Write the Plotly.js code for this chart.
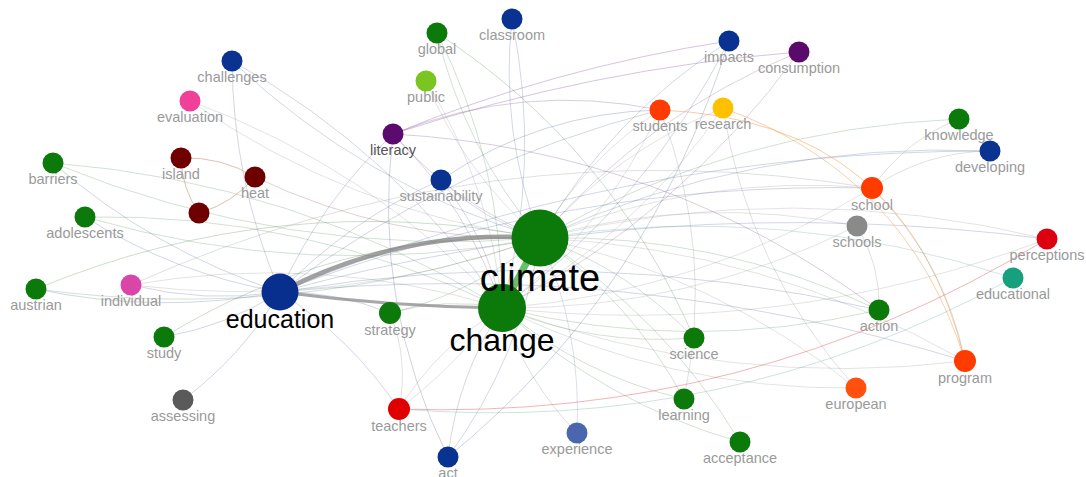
<!DOCTYPE html>
<html>
<head>
<meta charset="utf-8">
<script src="https://cdn.plot.ly/plotly-3.0.1.min.js"></script>
<style>
html,body{margin:0;padding:0;background:#fff;}
#chart{width:1086px;height:477px;}
</style>
</head>
<body>
<div id="chart"></div>
<script>
const nodeLabels = ["challenges","evaluation","barriers","island","heat","","adolescents","austrian","individual","education","study","assessing",
  "global","classroom","public","literacy","sustainability","climate","change","strategy","teachers","act","experience","science","learning","acceptance",
  "impacts","consumption","students","research","knowledge","developing","school","schools","perceptions","educational","action","program","european"];
const nodeX = [232,190,53,181,255,199,85,36,131,280,164,183,
  437,512,426,393,441,540,502,390,399,448,577,694,684,740,
  729,799,660,723,959,990,872,857,1047,1013,879,965,856];
const nodeY = [61,101,163,158,177,213,217,289,285,292,337,400,
  33,19,81,134,180,238,308,313,409,457,433,338,399,442,
  41,52,110,108,119,151,188,226,239,278,310,361,388];
const nodeSize = [21,21,21,21,21,21,21,21,21,37,21,21,
  21,21,21,21,21,57,48,22,22,21,21,21,21,21,
  21,21,21,21,21,21,22,21,21,21,21,22,21];
const nodeColor = ["#0a3291","#f0409a","#0b7a0b","#6e0000","#6e0000","#6e0000","#0b7a0b","#0b7a0b","#d946a8","#082f8e","#0b7a0b","#5a5a5a",
  "#0b7a0b","#0a3291","#7ac520","#5b0a6e","#0a3291","#0b7a0b","#0b7a0b","#0b7a0b","#e00000","#0a3291","#4a67ad","#0b7a0b","#0b7a0b","#0b7a0b",
  "#0a3291","#5a0a6a","#ff3b00","#ffc000","#0b7a0b","#0a3291","#ff3b00","#8a8a8a","#dd0010","#17a07e","#0b7a0b","#ff3b00","#ff5010"];
const labelFontSize = [14.5,14.5,14.5,14.5,14.5,14.5,14.5,14.5,14.5,25,14.5,14.5,
  14.5,14.5,14.5,14.5,14.5,38,32,14.5,14.5,14.5,14.5,14.5,14.5,14.5,
  14.5,14.5,14.5,14.5,14.5,14.5,14.5,14.5,14.5,14.5,14.5,14.5,14.5];
const labelColor = nodeLabels.map(l => (l==="climate"||l==="change"||l==="education") ? "#000000" : (l==="literacy" ? "#555555" : "#9a9a9a"));

// ---- Links ----
const heavyLinks = [["education","climate",4.5,"rgba(130,130,130,0.75)"],["change","education",3,"rgba(130,130,130,0.7)"],["climate","change",7,"rgba(80,180,80,0.85)"]];
const climateLinks = ["strategy","literacy","sustainability","global","classroom","students","research","impacts","school","schools","perceptions","educational",
  "action","program","science","learning","acceptance","teachers","act","experience","knowledge","developing","barriers","adolescents","austrian","individual",
  "evaluation","challenges","consumption","european","public","heat"];
const changeLinks = ["strategy","global","public","sustainability","students","impacts","school","schools","perceptions","action","program","science","learning",
  "acceptance","teachers","act","experience","barriers","adolescents","individual","evaluation","challenges","literacy","european","consumption","research","classroom"];
const educationLinks = ["study","assessing","individual","austrian","barriers","adolescents","school","challenges","literacy","sustainability","perceptions",
  "developing","action","program","teachers","students","strategy"];
const otherLinks = [["island","heat"],["","island"],["heat",""],["students","program"],["research","program"],["perceptions","teachers"],
  ["literacy","consumption"],["literacy","impacts"],["literacy","students"],["school","developing"],["school","knowledge"],["study","climate"],
  ["austrian","climate"],["individual","school"],["sustainability","students"],["literacy","action"],["strategy","teachers"],["act","literacy"],
  ["school","program"],["schools","action"],["european","research"],["educational","teachers"],["global","science"],["students","learning"],["impacts","act"]];

const idx = name => nodeLabels.indexOf(name);
function mixGray(hex, a, k){
  const r=parseInt(hex.substr(1,2),16), g=parseInt(hex.substr(3,2),16), b=parseInt(hex.substr(5,2),16);
  const m = v => Math.round(v*(1-k) + 140*k);
  return `rgba(${m(r)},${m(g)},${m(b)},${a})`;
}
function curve(a, b, width, color, bend){
  const i=idx(a), j=idx(b);
  const x0=nodeX[i], y0=nodeY[i], x1=nodeX[j], y1=nodeY[j];
  const dx=x1-x0, dy=y1-y0;
  const cx=(x0+x1)/2 + dy*bend, cy=(y0+y1)/2 - dx*bend;
  return {type:"path", xref:"x", yref:"y", layer:"below",
    path:`M ${x0},${y0} Q ${cx},${cy} ${x1},${y1}`,
    line:{color:color, width:width}};
}
const shapes = [];
function thinColor(a,b){
  const i=idx(a), j=idx(b);
  let c = nodeColor[i];
  if (nodeColor[i]==="#0b7a0b" && nodeColor[j]!=="#0b7a0b") c = nodeColor[j];
  if (["#ff3b00","#ff5010","#e00000","#dd0010","#f0409a","#d946a8","#ffc000","#7ac520"].includes(c)) c = "#8a8a8a";
  return mixGray(c, 0.3, 0.45);
}
climateLinks.forEach(n => shapes.push(curve("climate", n, 0.8, thinColor("climate",n), 0.12)));
changeLinks.forEach(n => shapes.push(curve(n, "change", 0.8, thinColor("change",n), 0.12)));
educationLinks.forEach(n => shapes.push(curve("education", n, 0.8, thinColor("education",n), 0.1)));
otherLinks.forEach(p => {
  const i=idx(p[0]);
  let col, bend = 0.15;
  if (p[0]==="students" && p[1]==="program") { col = "rgba(245,150,70,0.55)"; bend = 0.38; }
  else if (p[0]==="research" && p[1]==="program") { col = "rgba(245,150,70,0.5)"; bend = 0.25; }
  else if (p[0]==="perceptions") col = "rgba(225,70,70,0.45)";
  else if (p[0]==="literacy" && (p[1]==="consumption"||p[1]==="impacts")) { col = "rgba(140,90,165,0.4)"; bend = 0.06; }
  else if (nodeColor[i]==="#6e0000" || p[0]==="") col = "rgba(190,140,110,0.6)";
  else col = thinColor(p[0],p[1]);
  shapes.push(curve(p[0], p[1], 0.9, col, bend));
});
heavyLinks.forEach(h => shapes.push(curve(h[0], h[1], h[2], h[3], h[0]==="climate" ? 0.0 : (h[0]==="change" ? 0.03 : 0.14))));

const nodeTrace = {
  type:"scatter", mode:"markers", x:nodeX, y:nodeY, hoverinfo:"skip",
  marker:{size:nodeSize, color:nodeColor, line:{width:0}, opacity:1}
};
const labelTrace = {
  type:"scatter", mode:"text", hoverinfo:"skip",
  x:nodeX,
  y:nodeY.map((y,i)=> y + nodeSize[i]/2 + labelFontSize[i]*0.35 + (nodeLabels[i]==="change" ? 0 : 2)),
  text:nodeLabels,
  textposition:"middle center",
  textfont:{family:"Liberation Sans, Arial, sans-serif", size:labelFontSize, color:labelColor}
};

const layout = {
  width:1086, height:477,
  margin:{l:0,r:0,t:0,b:0},
  paper_bgcolor:"#ffffff", plot_bgcolor:"#ffffff",
  showlegend:false,
  xaxis:{range:[0,1086], visible:false, fixedrange:true},
  yaxis:{range:[477,0], visible:false, fixedrange:true},
  shapes:shapes
};
Plotly.newPlot("chart", [nodeTrace, labelTrace], layout, {displayModeBar:false, staticPlot:true});
</script>
</body>
</html>
